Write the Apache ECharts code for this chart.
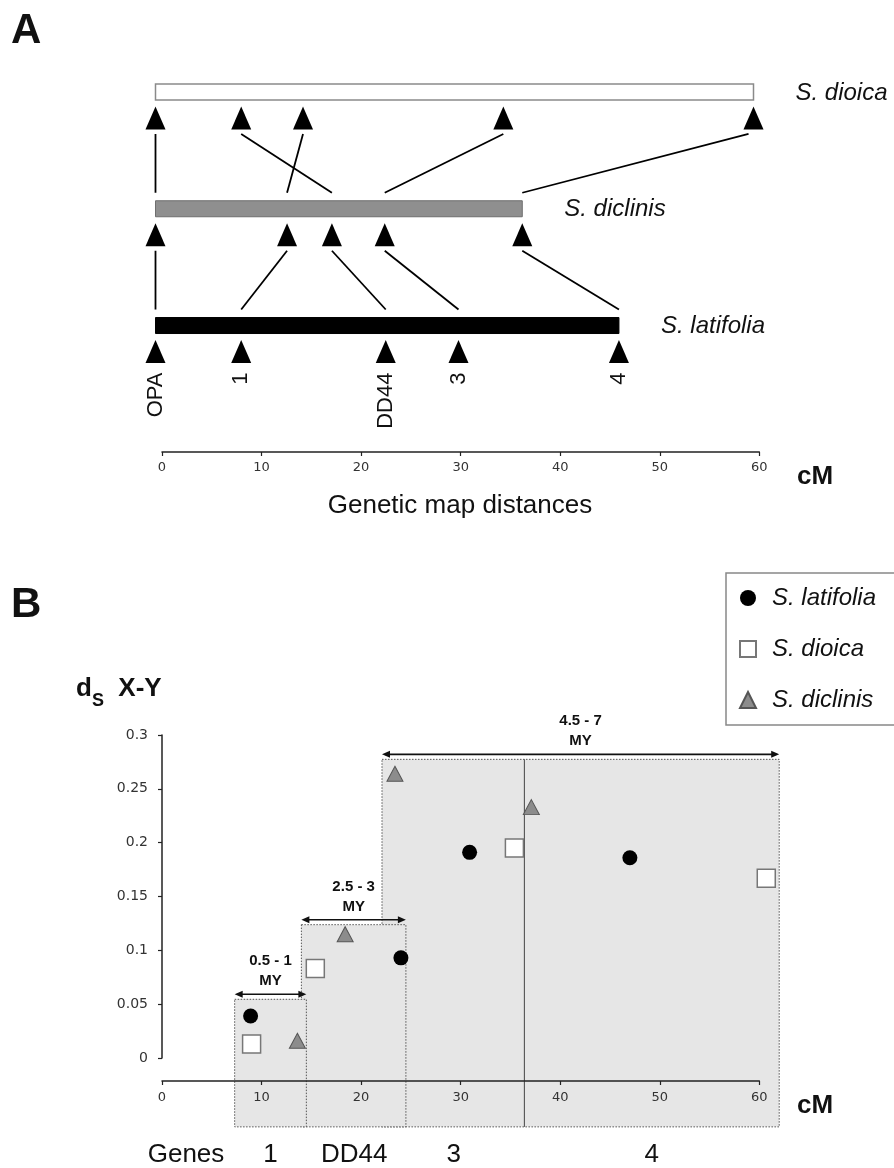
<!DOCTYPE html>
<html><head><meta charset="utf-8">
<script src="https://cdn.jsdelivr.net/npm/echarts@6/dist/echarts.min.js"></script>
<style>html,body{margin:0;padding:0;background:#fff}#c{width:894px;height:1168px}</style>
</head><body><div id="c"></div>
<script>
// ---------- Panel A data (genetic map positions, cM) ----------
const speciesA = ['S. latifolia', 'S. diclinis', 'S. dioica']; // bottom to top
const mapLength = [46.5, 36.8, 60];
const latifoliaMarkers = [0, 8.6, 23.1, 30.4, 46.5];
const diclinisMarkers = [0, 13.2, 17.7, 23.0, 36.8];
const dioicaMarkers = [0, 8.6, 14.8, 34.9, 60];
const markerNames = ['OPA', '1', 'DD44', '3', '4'];
const dioicaToDiclinis = [[0, 0], [8.6, 17.7], [14.8, 13.2], [34.9, 23.0], [59.5, 36.8]];
const diclinisToLatifolia = [[0, 0], [13.2, 8.6], [17.7, 23.1], [23.0, 30.4], [36.8, 46.5]];

// ---------- Panel B data (dS X-Y vs cM) ----------
const latifoliaDs = [[8.9, 0.039], [24.0, 0.093], [30.9, 0.191], [47.0, 0.186]];
const dioicaDs = [[9.0, 0.013], [15.4, 0.083], [35.4, 0.195], [60.7, 0.167]];
const diclinisDs = [[13.6, 0.016], [18.4, 0.115], [23.4, 0.264], [37.1, 0.233]];
const regionStart = [22.1, 14.0, 7.3];
const regionEnd = [62.0, 24.5, 14.5];
const regionTop = [0.2774, 0.1238, 0.0545];
const regionBottom = -0.064;
const regionAge = ['4.5 - 7', '2.5 - 3', '0.5 - 1'];
const regionDivider = 36.4;
const geneNames = ['1', 'DD44', '3', '4'];
const geneCenters = [10.9, 19.3, 29.3, 49.2];

const FF = 'Liberation Sans, Arial, sans-serif';
const chart = echarts.init(document.getElementById('c'), null, {renderer: 'canvas'});

const barStyles = [
  {fill: '#000', stroke: '#000', lineWidth: 1},
  {fill: '#8f8f8f', stroke: '#6e6e6e', lineWidth: 1},
  {fill: '#fff', stroke: '#8a8a8a', lineWidth: 1.5}
];

function triSeries(name, markers, row) {
  return {
    type: 'scatter', name: name, xAxisIndex: 0, yAxisIndex: 0, silent: true,
    symbol: 'triangle', symbolSize: [20, 23], symbolOffset: [0, 26],
    itemStyle: {color: '#000', opacity: 1}, z: 4,
    data: markers.map(x => [x, row])
  };
}
function linkSeries(links, upper, lower) {
  return {
    type: 'custom', xAxisIndex: 0, yAxisIndex: 0, silent: true, clip: false, z: 3,
    data: links.map(l => [l[0], upper, l[1], lower]),
    encode: {x: [0, 2], y: [1, 3]},
    renderItem: function (params, api) {
      const a = api.coord([api.value(0), api.value(1)]);
      const b = api.coord([api.value(2), api.value(3)]);
      return {type: 'line', shape: {x1: a[0], y1: a[1] + 42, x2: b[0], y2: b[1] - 16},
        style: {stroke: '#000', lineWidth: 1.8}};
    }
  };
}

const boldTxt = {fontFamily: FF, fontWeight: 'bold', fontSize: 15, fill: '#111', align: 'center', verticalAlign: 'middle'};
const axisLineStyle = {color: '#222', width: 1.5};
const tickLabel = {fontSize: 13, color: '#333', fontFamily: 'DejaVu Sans'};

const option = {
  animation: false,
  backgroundColor: '#fff',
  textStyle: {fontFamily: FF},
  grid: [
    {left: 155.5, width: 598, top: 33.6, height: 350.3},
    {left: 162, width: 597.3, top: 735, height: 346},
    {left: 162, width: 597.3, top: 735, height: 323},
    {left: 162, width: 597.3, top: 100, height: 352}
  ],
  xAxis: [
    {gridIndex: 0, type: 'value', min: 0, max: 60, show: false},
    {gridIndex: 1, type: 'value', min: 0, max: 60, interval: 10, z: 10,
      axisLine: {onZero: false, lineStyle: axisLineStyle},
      axisTick: {length: 4, lineStyle: {color: '#222', width: 1.2}},
      axisLabel: Object.assign({margin: 10}, tickLabel),
      splitLine: {show: false}},
    {gridIndex: 2, type: 'value', min: 0, max: 60, show: false},
    {gridIndex: 3, type: 'value', min: 0, max: 60, interval: 10, z: 10,
      axisLine: {onZero: false, lineStyle: axisLineStyle},
      axisTick: {length: 4, lineStyle: {color: '#222', width: 1.2}},
      axisLabel: Object.assign({margin: 9}, tickLabel),
      splitLine: {show: false}}
  ],
  yAxis: [
    {gridIndex: 0, type: 'category', data: speciesA, show: false},
    {gridIndex: 1, type: 'value', min: -0.0214, max: 0.3, show: false},
    {gridIndex: 2, type: 'value', min: 0, max: 0.3, interval: 0.05,
      axisLine: {show: true, onZero: false, lineStyle: axisLineStyle},
      axisTick: {show: true, length: 4, lineStyle: {color: '#222', width: 1.2}},
      axisLabel: {fontSize: 14, color: '#333', margin: 14, fontFamily: 'DejaVu Sans'},
      splitLine: {show: false}},
    {gridIndex: 3, type: 'value', min: 0, max: 1, show: false}
  ],
  legend: {
    orient: 'vertical', left: 726, top: 573,
    data: ['S. latifolia', 'S. dioica', 'S. diclinis'],
    itemWidth: 16, itemHeight: 16, itemGap: 27,
    padding: [13, 40, 13, 13],
    borderColor: '#888', borderWidth: 1.5,
    textStyle: {fontSize: 24, fontStyle: 'italic', color: '#111', fontFamily: FF, padding: [0, 0, 0, 11]}
  },
  graphic: [
    {type: 'text', left: 11, top: 10, style: {text: 'A', font: 'bold 42px ' + FF, fill: '#111'}},
    {type: 'text', left: 11, top: 584, style: {text: 'B', font: 'bold 42px ' + FF, fill: '#111'}},
    {type: 'text', left: 797, top: 464, style: {text: 'cM', font: 'bold 26px ' + FF, fill: '#111'}},
    {type: 'text', left: 797, top: 1093, style: {text: 'cM', font: 'bold 26px ' + FF, fill: '#111'}},
    {type: 'text', x: 460, y: 506, style: {text: 'Genetic map distances', font: '26px ' + FF, fill: '#111', align: 'center', verticalAlign: 'middle'}},
    {type: 'text', x: 186, y: 1155, style: {text: 'Genes', font: '26px ' + FF, fill: '#111', align: 'center', verticalAlign: 'middle'}},
    {type: 'text', left: 76, top: 676, style: {
      text: '{d|d}{s|S}{x|  X-Y}',
      rich: {
        d: {fontSize: 26, fontWeight: 'bold', fontFamily: FF, fill: '#111', padding: [0, 0, 8, 0], verticalAlign: 'bottom'},
        s: {fontSize: 18, fontWeight: 'bold', fontFamily: FF, fill: '#111', verticalAlign: 'bottom'},
        x: {fontSize: 26, fontWeight: 'bold', fontFamily: FF, fill: '#111', padding: [0, 0, 8, 0], verticalAlign: 'bottom'}
      }}}
  ],
  series: [
    // Panel A: chromosome bars with species labels
    {type: 'custom', xAxisIndex: 0, yAxisIndex: 0, silent: true, clip: false, z: 2,
      data: speciesA.map((s, i) => [0, mapLength[i], i]),
      encode: {x: [0, 1], y: 2},
      renderItem: function (params, api) {
        const i = params.dataIndex;
        const a = api.coord([api.value(0), api.value(2)]);
        const b = api.coord([api.value(1), api.value(2)]);
        return {type: 'group', children: [
          {type: 'rect', shape: {x: a[0], y: a[1] - 8, width: b[0] - a[0], height: 16}, style: barStyles[i]},
          {type: 'text', x: b[0] + 42, y: b[1] + 1, style: {text: speciesA[i], fontFamily: FF, fontSize: 24, fontStyle: 'italic', fill: '#111', align: 'left', verticalAlign: 'middle'}}
        ]};
      }},
    triSeries('A1', latifoliaMarkers, 0),
    triSeries('A2', diclinisMarkers, 1),
    triSeries('A3', dioicaMarkers, 2),
    linkSeries(dioicaToDiclinis, 2, 1),
    linkSeries(diclinisToLatifolia, 1, 0),
    // Panel A marker names
    {type: 'custom', xAxisIndex: 0, yAxisIndex: 0, silent: true, clip: false, z: 4,
      data: latifoliaMarkers.map((x, i) => [x, 0]),
      renderItem: function (params, api) {
        const p = api.coord([api.value(0), api.value(1)]);
        return {type: 'text', x: p[0], y: p[1] + 47, rotation: Math.PI / 2,
          style: {text: markerNames[params.dataIndex], fontFamily: FF, fontSize: 22, fill: '#111', align: 'right', verticalAlign: 'middle'}};
      }},
    // Panel B: shaded regions with age arrows
    {type: 'custom', xAxisIndex: 1, yAxisIndex: 1, silent: true, clip: false, z: 1,
      data: regionStart.map((s, i) => [s, regionEnd[i], regionTop[i]]),
      encode: {x: [0, 1], y: 2},
      renderItem: function (params, api) {
        const i = params.dataIndex;
        const tl = api.coord([api.value(0), api.value(2)]);
        const br = api.coord([api.value(1), regionBottom]);
        const ay = tl[1] - 5, ah = 8, aw = 3.5;
        const mid = (tl[0] + br[0]) / 2;
        return {type: 'group', children: [
          {type: 'rect', shape: {x: tl[0], y: tl[1], width: br[0] - tl[0], height: br[1] - tl[1]},
            style: {fill: '#e6e6e6', stroke: '#555', lineWidth: 1, lineDash: [1.5, 1.5]}},
          {type: 'line', shape: {x1: tl[0] + 3, y1: ay, x2: br[0] - 3, y2: ay}, style: {stroke: '#111', lineWidth: 1.6}},
          {type: 'polygon', shape: {points: [[tl[0], ay], [tl[0] + ah, ay - aw], [tl[0] + ah, ay + aw]]}, style: {fill: '#111'}},
          {type: 'polygon', shape: {points: [[br[0], ay], [br[0] - ah, ay - aw], [br[0] - ah, ay + aw]]}, style: {fill: '#111'}},
          {type: 'text', x: mid, y: tl[1] - 38, style: Object.assign({text: regionAge[i]}, boldTxt)},
          {type: 'text', x: mid, y: tl[1] - 18, style: Object.assign({text: 'MY'}, boldTxt)}
        ]};
      }},
    // divider line
    {type: 'custom', xAxisIndex: 1, yAxisIndex: 1, silent: true, clip: false, z: 2,
      data: [[regionDivider, regionTop[0]]],
      renderItem: function (params, api) {
        const a = api.coord([api.value(0), api.value(1)]);
        const b = api.coord([api.value(0), regionBottom]);
        return {type: 'line', shape: {x1: a[0], y1: a[1], x2: b[0], y2: b[1]}, style: {stroke: '#444', lineWidth: 1}};
      }},
    // gene labels
    {type: 'custom', xAxisIndex: 1, yAxisIndex: 1, silent: true, clip: false, z: 2,
      data: geneCenters.map(c => [c, regionBottom]),
      renderItem: function (params, api) {
        const p = api.coord([api.value(0), api.value(1)]);
        return {type: 'text', x: p[0], y: p[1] + 28,
          style: {text: geneNames[params.dataIndex], fontFamily: FF, fontSize: 26, fill: '#111', align: 'center', verticalAlign: 'middle'}};
      }},
    {type: 'scatter', name: 'S. latifolia', xAxisIndex: 1, yAxisIndex: 1, clip: false, z: 5,
      symbol: 'circle', symbolSize: 15, itemStyle: {color: '#000', opacity: 1}, data: latifoliaDs},
    {type: 'scatter', name: 'S. dioica', xAxisIndex: 1, yAxisIndex: 1, clip: false, z: 5,
      symbol: 'rect', symbolSize: 18, itemStyle: {color: '#fff', borderColor: '#777', borderWidth: 1.5, opacity: 1}, data: dioicaDs},
    {type: 'scatter', name: 'S. diclinis', xAxisIndex: 1, yAxisIndex: 1, clip: false, z: 5,
      symbol: 'triangle', symbolSize: [16, 15], itemStyle: {color: '#8c8c8c', borderColor: '#555', borderWidth: 1, opacity: 1}, data: diclinisDs}
  ]
};
chart.setOption(option);
</script></body></html>
